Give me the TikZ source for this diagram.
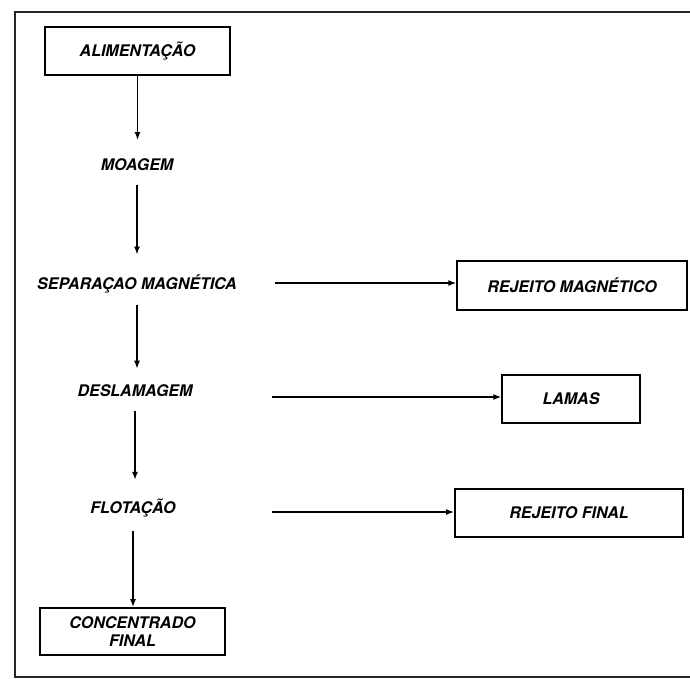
\documentclass[tikz,border=0pt]{standalone}
\usepackage{fontspec}
\setmainfont{TeX Gyre Heros}
\usepackage{tikz}
\usetikzlibrary{arrows.meta}

\tikzset{
  etapa/.style={inner sep=0pt, font=\bfseries\itshape\fontsize{12}{13.5}\selectfont},
  caixa/.style={etapa, draw, line width=1.5pt, align=center},
  fluxo/.style={line width=1.1pt, -{Latex[length=6pt,width=4.5pt]}}
}

\begin{document}
\begin{tikzpicture}[x=0.75pt,y=0.75pt,yscale=-1,xscale=1]
\useasboundingbox (0,0) rectangle (690,679);

%Frame
\draw [line width=1.5pt, color=black!85] (690,12) -- (15,12) -- (15,677) -- (690,677) ;

% Boxes
\node (alim) [caixa, minimum width=139pt, minimum height=36pt] at (137.5,51) {ALIMENTAÇÃO};
\node (rejmag) [caixa, minimum width=172pt, minimum height=37pt] at (572,285.5) {REJEITO MAGNÉTICO};
\node (lamas) [caixa, minimum width=103pt, minimum height=36pt] at (571,399) {LAMAS};
\node (rejfin) [caixa, minimum width=171pt, minimum height=36pt] at (569,513) {REJEITO FINAL};
\node (conc) [caixa, minimum width=139pt, minimum height=35pt] at (132.5,631.5) {CONCENTRADO\\FINAL};

% Text Node
\node (moag) [etapa] at (137,165) {MOAGEM};
% Text Node
\node (sep) [etapa] at (137,284) {SEPARAÇAO MAGNÉTICA};
% Text Node
\node (desl) [etapa] at (135,391) {DESLAMAGEM};
% Text Node
\node (flot) [etapa] at (133,508) {FLOTAÇÃO};

% start points of side streams
\coordinate (s1) at (275,283);
\coordinate (s2) at (272,397);
\coordinate (s3) at (272,512);

%Straight Lines
\draw [fluxo, shorten >=14pt] (alim.south) -- (moag.north -| alim.south) ;
\draw [fluxo, shorten <=10pt, shorten >=15pt] (moag.south) -- (sep.north -| moag.south) ;
\draw [fluxo, shorten <=9pt, shorten >=12pt] (sep.south) -- (desl.north -| sep.south) ;
\draw [fluxo, shorten <=10pt, shorten >=14pt] (desl.south) -- (flot.north -| desl.south) ;
\draw [fluxo, shorten <=10pt] (flot.south) -- (conc.north -| flot.south) ;

\draw [fluxo] (s1) -- (s1 -| rejmag.west) ;
\draw [fluxo] (s2) -- (s2 -| lamas.west) ;
\draw [fluxo] (s3) -- (s3 -| rejfin.west) ;

\end{tikzpicture}
\end{document}
